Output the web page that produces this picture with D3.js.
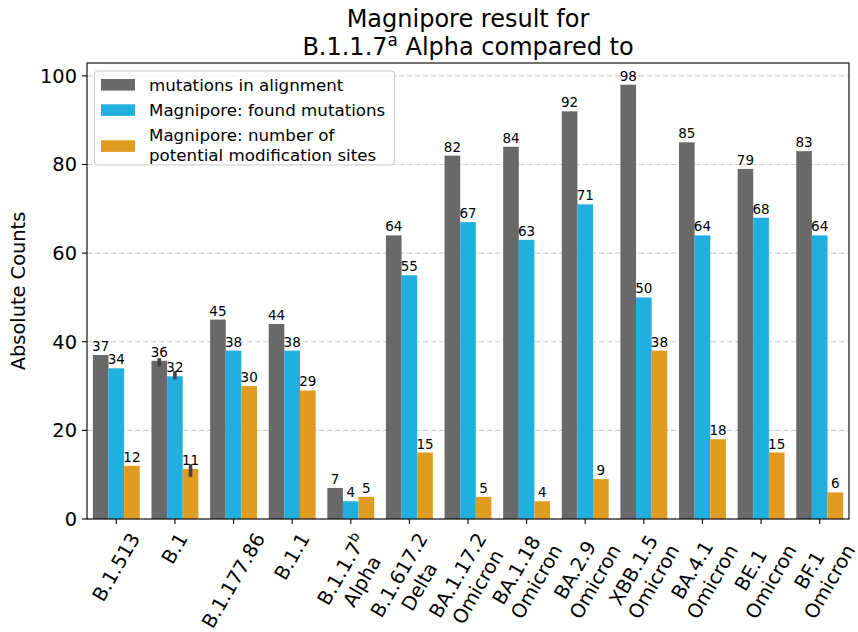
<!DOCTYPE html>
<html>
<head>
<meta charset="utf-8">
<script src="https://cdn.jsdelivr.net/npm/d3@7"></script>
<style>
  html, body { margin: 0; padding: 0; background: #ffffff; }
  svg { display: block; font-family: "DejaVu Sans", sans-serif; }
</style>
</head>
<body>
<svg id="chart" width="858" height="632"></svg>
<script>
// Variants, each tick label split into lines ("^" marks a superscript tail)
const categories = ["B.1.513", "B.1", "B.1.177.86", "B.1.1", "B.1.1.7b", "B.1.617.2",
  "BA.1.17.2", "BA.1.18", "BA.2.9", "XBB.1.5", "BA.4.1", "BE.1", "BF.1"];
const tickLabels = [["B.1.513"], ["B.1"], ["B.1.177.86"], ["B.1.1"], ["B.1.1.7^b", "Alpha"],
  ["B.1.617.2", "Delta"], ["BA.1.17.2", "Omicron"], ["BA.1.18", "Omicron"], ["BA.2.9", "Omicron"],
  ["XBB.1.5", "Omicron"], ["BA.4.1", "Omicron"], ["BE.1", "Omicron"], ["BF.1", "Omicron"]];

// Series values
const alignmentMutations = [37, 35.7, 45, 44, 7, 64, 82, 84, 92, 98, 85, 79, 83];
const foundMutations     = [34, 32.2, 38, 38, 4, 55, 67, 63, 71, 50, 64, 68, 64];
const modificationSites  = [12, 11.3, 30, 29, 5, 15, 5, 4, 9, 38, 18, 15, 6];

// Confidence intervals (only B.1 has replicates)
const intervalCategory = "B.1";
const alignmentInterval = [34.4, 36.3];
const foundInterval     = [31.5, 33.4];
const sitesInterval     = [9.5, 12.4];

const seriesNames = ["mutations in alignment", "Magnipore: found mutations",
  "Magnipore: number of\npotential modification sites"];
const seriesColors = ["#696969", "#20afdf", "#df9c20"];
const yTicks = [0, 20, 40, 60, 80, 100];

const series = [
  { key: "align", values: alignmentMutations, ci: alignmentInterval },
  { key: "found", values: foundMutations, ci: foundInterval },
  { key: "sites", values: modificationSites, ci: sitesInterval }
];

const svg = d3.select("#chart");
const margin = { left: 87, right: 858 - 849, top: 63, bottom: 632 - 519 };
const W = 858, H = 632;
const x0 = margin.left, x1 = W - margin.right, yTop = margin.top, yBot = H - margin.bottom;

const x = d3.scaleBand().domain(categories).range([x0, x1]).paddingInner(0.2).paddingOuter(0.1);
const xInner = d3.scaleBand().domain(series.map(s => s.key)).range([0, x.bandwidth()]).padding(0);
const y = d3.scaleLinear().domain([0, 102.9]).range([yBot, yTop]);
const fmt = d3.format(".0f");

// Grid
svg.append("g").selectAll("line").data(yTicks).join("line")
  .attr("x1", x0).attr("x2", x1)
  .attr("y1", d => y(d)).attr("y2", d => y(d))
  .attr("stroke", "#cfcfcf").attr("stroke-width", 1.2)
  .attr("stroke-dasharray", "5.5,2.5");

// Bars
const groups = svg.append("g").selectAll("g").data(categories).join("g")
  .attr("transform", d => `translate(${x(d)},0)`);

series.forEach((s, si) => {
  groups.append("rect")
    .attr("x", xInner(s.key))
    .attr("width", xInner.bandwidth())
    .attr("y", (d, i) => y(s.values[i]))
    .attr("height", (d, i) => y(0) - y(s.values[i]))
    .attr("fill", seriesColors[si]);
});

// Error bars
series.forEach(s => {
  const cx = x(intervalCategory) + xInner(s.key) + xInner.bandwidth() / 2;
  svg.append("line")
    .attr("x1", cx).attr("x2", cx)
    .attr("y1", y(s.ci[0])).attr("y2", y(s.ci[1]))
    .attr("stroke", "#424242").attr("stroke-width", 3.6);
});

// Value labels
series.forEach(s => {
  groups.append("text")
    .attr("x", xInner(s.key) + xInner.bandwidth() / 2)
    .attr("y", (d, i) => y(s.values[i]) - 4)
    .attr("text-anchor", "middle")
    .attr("font-size", 13.5)
    .attr("fill", "#000")
    .text((d, i) => fmt(s.values[i]));
});

// Spines
svg.append("rect").attr("x", x0).attr("y", yTop).attr("width", x1 - x0).attr("height", yBot - yTop)
  .attr("fill", "none").attr("stroke", "#000").attr("stroke-width", 1.1);

// Y axis
const yAxis = svg.append("g");
yTicks.forEach(t => {
  yAxis.append("line").attr("x1", x0 - 5).attr("x2", x0).attr("y1", y(t)).attr("y2", y(t))
    .attr("stroke", "#000").attr("stroke-width", 1.1);
  yAxis.append("text").attr("x", x0 - 10).attr("y", y(t)).attr("dy", "0.36em")
    .attr("text-anchor", "end").attr("font-size", 19.4).text(t);
});
svg.append("text")
  .attr("transform", `translate(${25},${(yTop + yBot) / 2}) rotate(-90)`)
  .attr("text-anchor", "middle").attr("font-size", 19.4).text("Absolute Counts");

// X axis ticks and rotated labels
const xAxis = svg.append("g");
const tickFont = 19.4, lineH = tickFont * 1.2;
categories.forEach((c, i) => {
  const cx = x(c) + x.bandwidth() / 2;
  xAxis.append("line").attr("x1", cx).attr("x2", cx).attr("y1", yBot).attr("y2", yBot + 5)
    .attr("stroke", "#000").attr("stroke-width", 1.1);
  const g = xAxis.append("g");
  const t = g.append("text").attr("transform", "rotate(-60)")
    .attr("font-size", tickFont).attr("text-anchor", "middle");
  tickLabels[i].forEach((line, li) => {
    const parts = line.split("^");
    const ts = t.append("tspan").attr("x", 0).attr("y", li * lineH).text(parts[0]);
    if (parts[1]) {
      t.append("tspan").attr("dy", -tickFont * 0.42).attr("font-size", tickFont * 0.7).text(parts[1]);
    }
  });
  const bb = g.node().getBBox();
  const tx = cx - (bb.x + bb.width / 2);
  const ty = yBot + 10 - bb.y;
  g.attr("transform", `translate(${tx},${ty})`);
});

// Title
const titleX = (x0 + x1) / 2;
const title = svg.append("g").attr("font-size", 24).attr("text-anchor", "middle");
title.append("text").attr("x", titleX).attr("y", 27).text("Magnipore result for");
const t2 = title.append("text").attr("x", titleX).attr("y", 55);
t2.append("tspan").text("B.1.1.7");
t2.append("tspan").attr("dy", -9).attr("font-size", 16.8).text("a");
t2.append("tspan").attr("dy", 9).text(" Alpha compared to");

// Legend
const legend = svg.append("g");
legend.append("rect").attr("x", 94.5).attr("y", 71).attr("width", 300).attr("height", 94)
  .attr("rx", 3).attr("fill", "#fff").attr("fill-opacity", 0.8)
  .attr("stroke", "#cccccc").attr("stroke-width", 1);
const legendRows = [{ patchY: 79, baselines: [91] }, { patchY: 104.3, baselines: [116] },
  { patchY: 140.3, baselines: [141, 160.5] }];
seriesNames.forEach((name, i) => {
  const r = legendRows[i];
  legend.append("rect").attr("x", 101).attr("y", r.patchY).attr("width", 34).attr("height", 11.6)
    .attr("fill", seriesColors[i]);
  const lines = name.split("\n");
  const tx = legend.append("text").attr("font-size", 16.7);
  lines.forEach((ln, li) => {
    tx.append("tspan").attr("x", 149).attr("y", r.baselines[li]).text(ln);
  });
});
</script>
</body>
</html>
